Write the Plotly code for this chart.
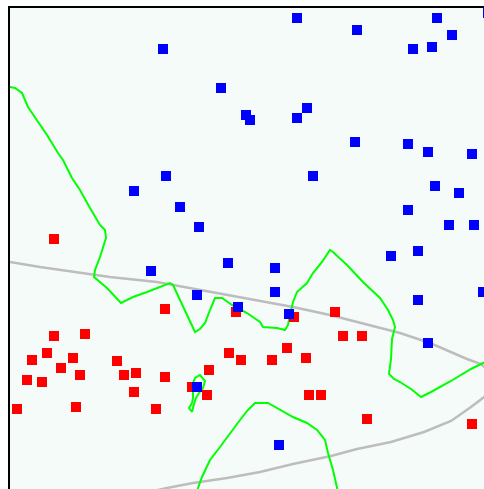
import plotly.graph_objects as go

# Class 0 samples (red)
red_x = [0.44, 1.55, 2.26, 2.84, 3.25, 0.44, 0.75, 3.33, 3.52, 0.22, 0.37, 0.63,
         0.51, 1.07, 0.17, 0.32, 0.70, 1.14, 1.26, 1.24, 0.07, 0.66, 1.46, 2.19,
         2.31, 2.62, 2.77, 2.96, 1.99, 1.55, 1.82, 1.97, 2.99, 3.11, 3.57, 4.62]
red_y = [2.50, 1.80, 1.77, 1.72, 1.77, 1.53, 1.55, 1.53, 1.53, 1.29, 1.36, 1.31,
         1.21, 1.28, 1.09, 1.07, 1.14, 1.14, 1.16, 0.97, 0.80, 0.82, 0.80, 1.36,
         1.29, 1.29, 1.41, 1.31, 1.19, 1.12, 1.02, 0.94, 0.94, 0.94, 0.70, 0.65]

# Class 1 samples (blue)
blue_x = [2.87, 4.27, 4.78, 1.53, 3.47, 4.42, 4.03, 4.22, 2.11, 2.97, 2.36, 2.40,
          2.87, 3.45, 3.98, 4.18, 4.62, 1.56, 1.24, 3.03, 4.25, 4.49, 1.70, 1.89,
          3.98, 4.39, 4.64, 3.81, 4.08, 2.18, 1.41, 2.65, 2.65, 1.87, 2.28, 2.79,
          4.08, 4.73, 4.18, 1.87, 2.69]
blue_y = [4.71, 4.71, 4.76, 4.40, 4.59, 4.54, 4.40, 4.42, 4.01, 3.81, 3.74, 3.69,
          3.71, 3.47, 3.45, 3.37, 3.35, 3.13, 2.98, 3.13, 3.03, 2.96, 2.82, 2.62,
          2.79, 2.64, 2.64, 2.33, 2.38, 2.26, 2.18, 2.21, 1.97, 1.94, 1.82, 1.75,
          1.89, 1.97, 1.46, 1.02, 0.44]

# True class boundary (grey)
true_x = [-0.05, 0.00, 0.30, 0.67, 1.00, 1.47, 2.00, 2.50, 2.83, 3.20, 3.60, 3.90,
          4.20, 4.57, 4.71, 4.80, 4.83, 4.78, 4.61, 4.41, 4.14, 3.81, 3.47, 3.21,
          2.83, 2.50, 2.17, 1.83, 1.57, 1.30]
true_y = [2.28, 2.27, 2.22, 2.17, 2.12, 2.07, 1.97, 1.88, 1.82, 1.74, 1.64, 1.56,
          1.46, 1.30, 1.25, 1.17, 1.06, 0.95, 0.82, 0.68, 0.57, 0.47, 0.40, 0.33,
          0.25, 0.17, 0.11, 0.06, 0.01, -0.05]

# Learned decision boundary (green), three separate pieces
fit_a_x = [-0.05, 0.00, 0.05, 0.12, 0.18, 0.27, 0.37, 0.48, 0.53, 0.62, 0.70, 0.80,
           0.90, 0.95, 0.96, 0.90, 0.85, 0.84, 0.97, 1.11, 1.23, 1.37, 1.47, 1.60,
           1.63, 1.70, 1.78, 1.85, 1.90, 1.95, 2.00, 2.05, 2.12, 2.22, 2.37, 2.50,
           2.53, 2.67, 2.75, 2.78, 2.80, 2.83, 2.87, 2.97, 3.03, 3.12, 3.20, 3.23,
           3.37, 3.53, 3.70, 3.78, 3.83, 3.85, 3.82, 3.81, 3.79, 3.84, 3.90, 4.01,
           4.11, 4.21, 4.41, 4.61, 4.71, 4.80]
fit_a_y = [4.02, 4.02, 4.01, 3.96, 3.82, 3.69, 3.54, 3.36, 3.29, 3.11, 2.99, 2.81,
           2.64, 2.59, 2.51, 2.32, 2.19, 2.12, 2.01, 1.86, 1.92, 1.97, 2.01, 2.06,
           2.04, 1.89, 1.72, 1.57, 1.60, 1.66, 1.79, 1.91, 1.91, 1.84, 1.76, 1.67,
           1.62, 1.61, 1.59, 1.64, 1.74, 1.87, 1.97, 2.06, 2.16, 2.27, 2.39, 2.37,
           2.24, 2.07, 1.91, 1.79, 1.69, 1.62, 1.50, 1.30, 1.15, 1.10, 1.07, 1.00,
           0.92, 0.97, 1.08, 1.20, 1.25, 1.29]

fit_b_x = [1.87, 1.88, 1.92, 2.00, 2.10, 2.20, 2.30, 2.38, 2.45, 2.58, 2.67, 2.83,
           2.97, 3.07, 3.15, 3.18, 3.23, 3.27, 3.28]
fit_b_y = [-0.03, 0.01, 0.12, 0.29, 0.42, 0.56, 0.69, 0.79, 0.86, 0.86, 0.81, 0.72,
           0.66, 0.59, 0.49, 0.36, 0.19, 0.02, -0.03]

fit_c_x = [1.82, 1.79, 1.82, 1.83, 1.83, 1.82, 1.85, 1.90, 1.95, 1.93, 1.89, 1.86,
           1.84, 1.82]
fit_c_y = [0.77, 0.81, 0.86, 0.91, 0.97, 1.03, 1.11, 1.14, 1.08, 1.01, 0.96, 0.91,
           0.85, 0.77]

GREY = "#bdbdbd"
GREEN = "#00ff00"

fig = go.Figure()

fig.add_trace(go.Scatter(x=true_x, y=true_y, mode="lines",
                         line=dict(color=GREY, width=2.5), hoverinfo="skip"))
for fx, fy in [(fit_a_x, fit_a_y), (fit_b_x, fit_b_y), (fit_c_x, fit_c_y)]:
    fig.add_trace(go.Scatter(x=fx, y=fy, mode="lines",
                             line=dict(color=GREEN, width=2), hoverinfo="skip"))

fig.add_trace(go.Scatter(x=red_x, y=red_y, mode="markers",
                         marker=dict(symbol="square", size=10, color="#ff0000",
                                     line=dict(width=0))))
fig.add_trace(go.Scatter(x=blue_x, y=blue_y, mode="markers",
                         marker=dict(symbol="square", size=10, color="#0000ff",
                                     line=dict(width=0))))

axis_common = dict(showgrid=False, zeroline=False, showticklabels=False,
                   ticks="", showline=True, linecolor="black", linewidth=2,
                   mirror=False, fixedrange=True)

fig.update_layout(
    width=484, height=489,
    margin=dict(l=10, r=0, t=8, b=0),
    paper_bgcolor="white",
    plot_bgcolor="#f5fbf8",
    showlegend=False,
    xaxis=dict(range=[0, 4.74], side="top", **axis_common),
    yaxis=dict(range=[0, 4.81], side="left", **axis_common),
)

fig.write_html("out.html")
